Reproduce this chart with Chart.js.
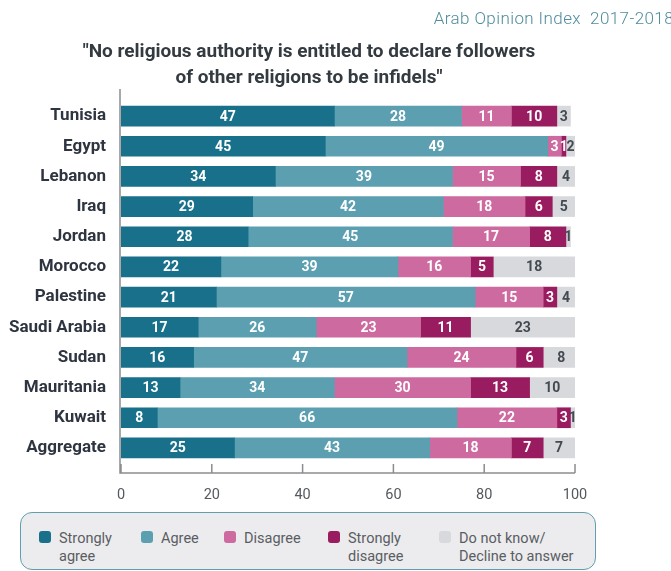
<!DOCTYPE html>
<html>
<head>
<meta charset="utf-8">
<script src="https://cdn.jsdelivr.net/npm/chart.js@4.4.1/dist/chart.umd.min.js"></script>
<style>
  html, body { margin: 0; padding: 0; background: #fff; }
  body { width: 671px; height: 571px; position: relative; overflow: hidden; font-family: Roboto, "Noto Sans", sans-serif; }
  #wrap { position: absolute; left: 0; top: 0; width: 671px; height: 571px; }
  .header { position: absolute; right: -3px; top: 8px; color: #4f8d9d; font-size: 17px; font-weight: 300; letter-spacing: 0.4px; white-space: pre; }
  .title { position: absolute; left: 0; width: 618px; top: 38px; text-align: center; color: #333a40; font-size: 19px; font-weight: bold; line-height: 26px; }
  .legend { position: absolute; left: 20px; top: 512px; width: 574px; height: 56px; border: 1.5px solid #5f9fae; border-radius: 12px; background: #ececee; }
  .item { position: absolute; top: 17px; color: #5a5d62; font-size: 14.5px; line-height: 18px; }
  .sw { position: absolute; top: 18px; width: 12px; height: 12px; border-radius: 3px; }
</style>
</head>
<body>
<div id="wrap"><canvas id="chart" width="671" height="571"></canvas></div>
<div class="header">Arab Opinion Index  2017-2018</div>
<div class="title">"No religious authority is entitled to declare followers<br>of other religions to be infidels"</div>
<div class="legend" id="legend"></div>
<script>
// data
const countries = ['Tunisia', 'Egypt', 'Lebanon', 'Iraq', 'Jordan', 'Morocco', 'Palestine',
    'Saudi Arabia', 'Sudan', 'Mauritania', 'Kuwait', 'Aggregate'];
const stronglyAgree = [47, 45, 34, 29, 28, 22, 21, 17, 16, 13, 8, 25];
const agree = [28, 49, 39, 42, 45, 39, 57, 26, 47, 34, 66, 43];
const disagree = [11, 3, 15, 18, 17, 16, 15, 23, 24, 30, 22, 18];
const stronglyDisagree = [10, 1, 8, 6, 8, 5, 3, 11, 6, 13, 3, 7];
const dontKnow = [3, 2, 4, 5, 1, 18, 4, 23, 8, 10, 1, 7];
const xTicks = [0, 20, 40, 60, 80, 100];

const seriesNames = [['Strongly', 'agree'], ['Agree'], ['Disagree'], ['Strongly', 'disagree'], ['Do not know/', 'Decline to answer']];
const colors = ['#19708a', '#5b9fb1', '#cd6aa0', '#9a1c60', '#d8d9dc'];
const allSeries = [stronglyAgree, agree, disagree, stronglyDisagree, dontKnow];

// legend in html so the two-line labels work
const legendX = [18, 120, 203, 307, 418];
const legend = document.getElementById('legend');
seriesNames.forEach(function (name, i) {
    const sw = document.createElement('div');
    sw.className = 'sw';
    sw.style.left = legendX[i] + 'px';
    sw.style.background = colors[i];
    legend.appendChild(sw);
    const txt = document.createElement('div');
    txt.className = 'item';
    txt.style.left = (legendX[i] + 20) + 'px';
    txt.innerHTML = name.join('<br>');
    legend.appendChild(txt);
});

// value labels inside the bars
const barLabels = {
    id: 'barLabels',
    afterDatasetsDraw(chart) {
        const ctx = chart.ctx;
        ctx.save();
        ctx.font = 'bold 14px Roboto';
        ctx.textAlign = 'center';
        ctx.textBaseline = 'middle';
        chart.data.datasets.forEach(function (ds, di) {
            const meta = chart.getDatasetMeta(di);
            ctx.fillStyle = di === 4 ? '#434a52' : '#ffffff';
            meta.data.forEach(function (bar, i) {
                const v = ds.data[i];
                ctx.fillText(v, (bar.x + bar.base) / 2, bar.y + 1);
            });
        });
        ctx.restore();
    }
};

// axis lines: y line runs a bit above the bars, x line sits below with ticks pointing up
const axisLines = {
    id: 'axisLines',
    afterDraw(chart) {
        const ctx = chart.ctx;
        const area = chart.chartArea;
        const xs = chart.scales.x;
        const axisY = area.bottom + 10;
        ctx.save();
        ctx.strokeStyle = '#8a8d90';
        ctx.lineWidth = 1.5;
        ctx.beginPath();
        ctx.moveTo(area.left - 1, area.top - 12);
        ctx.lineTo(area.left - 1, axisY);
        ctx.lineTo(xs.getPixelForValue(100), axisY);
        xTicks.forEach(function (t) {
            const px = xs.getPixelForValue(t);
            ctx.moveTo(px, axisY);
            ctx.lineTo(px, axisY - 9);
        });
        ctx.stroke();
        ctx.restore();
    }
};

const datasets = allSeries.map(function (data, i) {
    return {
        label: seriesNames[i].join(' '),
        data: data,
        backgroundColor: colors[i],
        borderWidth: 0,
        barThickness: 20
    };
});

new Chart(document.getElementById('chart'), {
    type: 'bar',
    data: { labels: countries, datasets: datasets },
    options: {
        indexAxis: 'y',
        responsive: false,
        animation: false,
        layout: { padding: { top: 101, right: 96, left: 0, bottom: 0 } },
        plugins: {
            legend: { display: false },
            tooltip: { enabled: false }
        },
        scales: {
            x: {
                stacked: true,
                min: 0,
                max: 100,
                afterBuildTicks: function (scale) {
                    scale.ticks = xTicks.map(function (v) { return { value: v }; });
                },
                afterFit: function (scale) { scale.height = 108; },
                grid: { display: false, drawTicks: false },
                border: { display: false },
                ticks: { padding: 24, color: '#55595e', font: { family: 'Roboto', size: 14.5 } }
            },
            y: {
                stacked: true,
                afterFit: function (scale) { scale.width = 121; },
                grid: { display: false, drawTicks: false },
                border: { display: false },
                ticks: { padding: 15, color: '#2e3440', font: { family: 'Roboto', size: 17, weight: 'bold' } }
            }
        }
    },
    plugins: [barLabels, axisLines]
});
</script>
</body>
</html>
